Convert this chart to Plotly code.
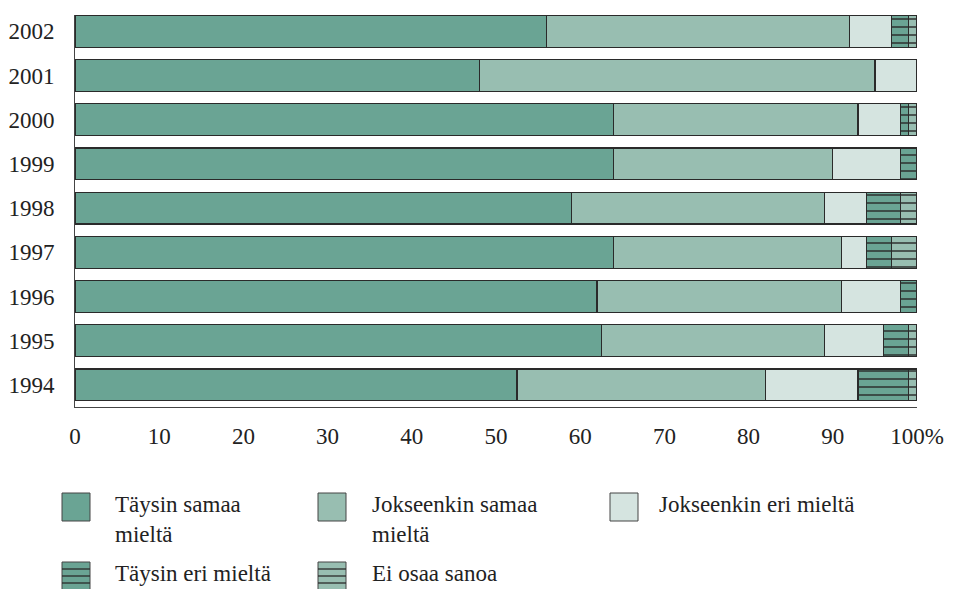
import plotly.graph_objects as go

years = ["1994", "1995", "1996", "1997", "1998", "1999", "2000", "2001", "2002"]
taysin_samaa = [52.5, 62.5, 62, 64, 59, 64, 64, 48, 56]
jokseenkin_samaa = [29.5, 26.5, 29, 27, 30, 26, 29, 47, 36]
jokseenkin_eri = [11, 7, 7, 3, 5, 8, 5, 5, 5]
taysin_eri = [6, 3, 2, 3, 4, 2, 1, 0, 2]
ei_osaa = [1, 1, 0, 3, 2, 0, 1, 0, 1]

series_names = ["Täysin samaa mieltä", "Jokseenkin samaa mieltä", "Jokseenkin eri mieltä",
                "Täysin eri mieltä", "Ei osaa sanoa"]
legend_labels = ["Täysin samaa<br>mieltä", "Jokseenkin samaa<br>mieltä", "Jokseenkin eri mieltä",
                 "Täysin eri mieltä", "Ei osaa sanoa"]
x_ticks = [0, 10, 20, 30, 40, 50, 60, 70, 80, 90, 100]
x_ticktext = ["0", "10", "20", "30", "40", "50", "60", "70", "80", "90", "100%"]

DARK = "#6aa494"
MID = "#98beb1"
LIGHT = "#d5e4e0"
EDGE = "#2a2a2a"
FONT = "Liberation Serif"
FS = 23

fills = [DARK, MID, LIGHT, DARK, MID]
striped = [False, False, False, True, True]
values = [taysin_samaa, jokseenkin_samaa, jokseenkin_eri, taysin_eri, ei_osaa]

fig = go.Figure()
for name, vals, col, st in zip(series_names, values, fills, striped):
    marker = dict(color=col, line=dict(color=EDGE, width=1.2))
    if st:
        marker["pattern"] = dict(shape="-", size=8, solidity=0.18, fgcolor=EDGE,
                                 bgcolor=col, fillmode="replace")
    fig.add_trace(go.Bar(y=years, x=vals, name=name, orientation="h",
                         marker=marker, width=0.72, showlegend=False))

# page has an 8px body margin; figure coords = page coords - 8
OFF = 8
W, H = 955 - OFF, 589 - OFF
L, T = 75 - OFF, 15 - OFF
R = W - (917 - OFF)
B = H - (407 - OFF)
pw, ph = W - L - R, H - T - B


def px(x):
    return (x - OFF - L) / pw


def py(y):
    return (H - B - (y - OFF)) / ph


shapes = []
annotations = []
legend_pos = [(62, 493, 113), (318, 493, 370), (610, 493, 657), (62, 562, 113), (318, 562, 370)]
for (sx, sy, tx), lab, col, st in zip(legend_pos, legend_labels, fills, striped):
    size = 28
    shapes.append(dict(type="rect", xref="paper", yref="paper",
                       x0=px(sx), x1=px(sx + size), y0=py(sy + size), y1=py(sy),
                       fillcolor=col, line=dict(color="#444", width=1)))
    if st:
        for k in range(1, 4):
            yy = sy + k * 7
            shapes.append(dict(type="line", xref="paper", yref="paper",
                               x0=px(sx), x1=px(sx + size), y0=py(yy), y1=py(yy),
                               line=dict(color=EDGE, width=1.3)))
    annotations.append(dict(text=lab, xref="paper", yref="paper", x=px(tx), y=py(sy - 3),
                            xanchor="left", yanchor="top", showarrow=False, align="left",
                            font=dict(family=FONT, size=FS, color="#222")))

fig.update_layout(
    barmode="stack",
    width=W, height=H,
    margin=dict(l=L, r=R, t=T, b=B, pad=0, autoexpand=False),
    plot_bgcolor="white", paper_bgcolor="white",
    font=dict(family=FONT, size=FS, color="#222"),
    xaxis=dict(range=[0, 100], tickvals=x_ticks, ticktext=x_ticktext, showgrid=False,
               zeroline=False, showline=True, linecolor="#444", linewidth=1, automargin=False,
               ticks="", ticklabelstandoff=8, tickfont=dict(family=FONT, size=FS)),
    yaxis=dict(range=[-0.5, 8.37], showgrid=False, zeroline=False, showline=True,
               linecolor="#444", linewidth=1, ticks="", ticklabelstandoff=15, automargin=False,
               tickfont=dict(family=FONT, size=FS)),
    shapes=shapes,
    annotations=annotations,
)

fig.write_html("out.html")
